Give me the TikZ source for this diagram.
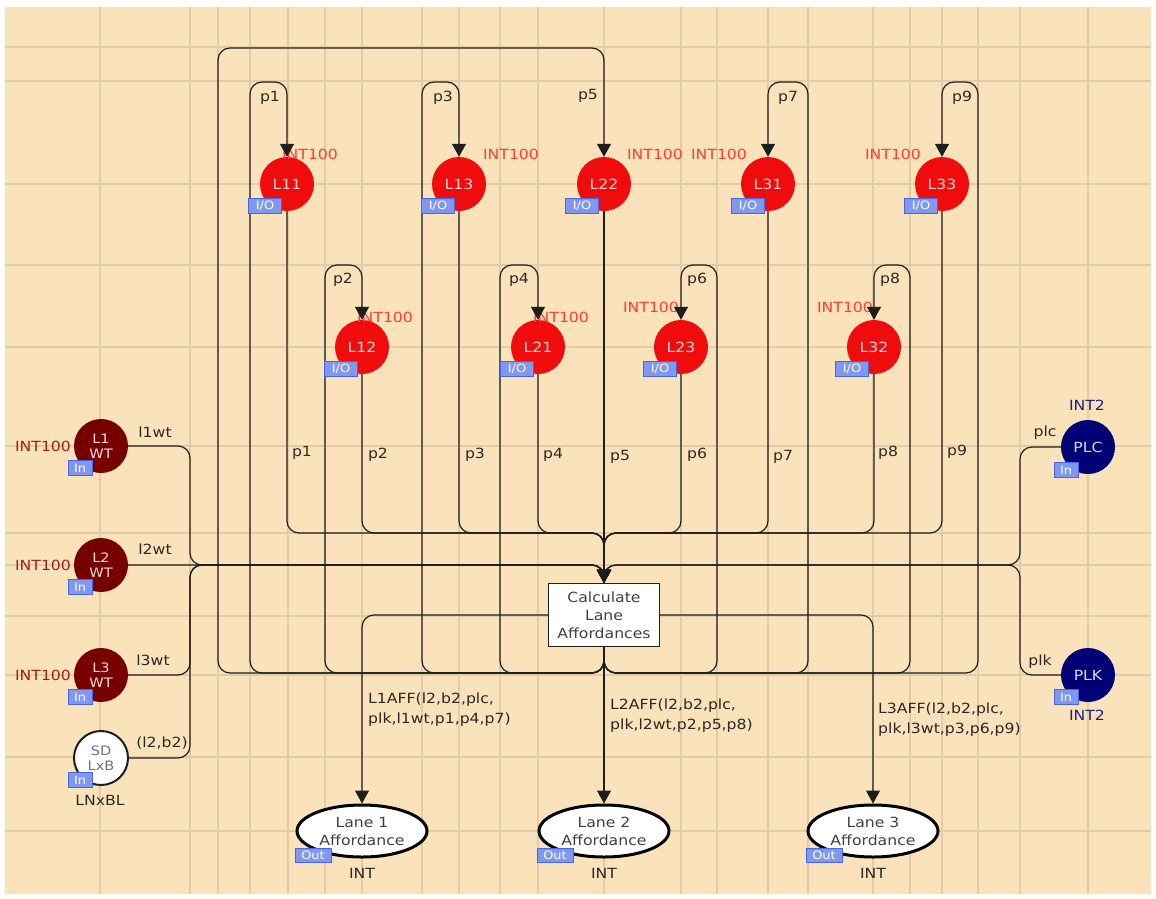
\documentclass[tikz,border=0pt]{standalone}
\usepackage{fontspec}
\setmainfont[FakeStretch=1.12]{DejaVu Sans}
\usetikzlibrary{arrows.meta,shapes.geometric}
\definecolor{bgc}{RGB}{250,226,186}
\definecolor{gridc}{RGB}{224,204,168}
\definecolor{pred}{RGB}{240,12,12}
\definecolor{wtred}{RGB}{118,0,0}
\definecolor{navyp}{RGB}{0,0,118}
\definecolor{tagfill}{RGB}{128,152,240}
\definecolor{tagdraw}{RGB}{72,100,232}
\definecolor{intred}{RGB}{255,60,60}
\definecolor{intdark}{RGB}{165,30,30}
\definecolor{intblue}{RGB}{30,30,140}
\definecolor{inscr}{RGB}{45,40,35}
\definecolor{arcc}{RGB}{30,30,30}
\begin{document}
\begin{tikzpicture}[x=1pt,y=-1pt,
  every node/.style={inner sep=0pt},
  f/.style={font=\fontsize{14}{17}\selectfont},
  place/.style={circle,minimum size=54pt,f,align=center},
  redp/.style={place,fill=pred,text=white!85!red},
  wtp/.style={place,fill=wtred,text=red!15!white,font=\fontsize{13}{15}\selectfont},
  bluep/.style={place,fill=navyp,text=blue!15!white},
  sdp/.style={place,fill=white,draw=arcc,line width=2pt,text=black!55,font=\fontsize{13}{15}\selectfont},
  lane/.style={ellipse,minimum width=130pt,minimum height=52pt,fill=white,draw=black,line width=3pt,align=center,font=\fontsize{14}{18}\selectfont,text=black!75},
  trans/.style={rectangle,minimum width=111pt,minimum height=63pt,fill=white,draw=arcc,line width=1.3pt,align=center,font=\fontsize{14}{18}\selectfont,text=black!75},
  tagbox/.style={rectangle,fill=tagfill,draw=tagdraw,line width=0.8pt,text=white,minimum height=15pt,font=\fontsize{11.5}{11.5}\selectfont},
  iot/.style={tagbox,minimum width=33pt},
  intag/.style={tagbox,minimum width=24pt},
  outt/.style={tagbox,minimum width=36pt,minimum height=14pt},
  lbl/.style={f,text=inscr},
  rhund/.style={f,text=intred},
  dhund/.style={f,text=intdark},
  btwo/.style={f,text=intblue},
  arc/.style={draw=arcc,line width=1.2pt,rounded corners=12pt},
  tip/.style={-{Triangle[length=13pt,width=14pt]}},
  guide/.style={draw=gridc,line width=1.5pt}
]
\useasboundingbox (0,0) rectangle (1156,899);
\fill[white] (0,0) rectangle (1156,899);
\fill[bgc] (5,7) rectangle (1151,894);
\foreach \y in {47,81,184,265,347,446,533,565,616,675,757,831} \draw[guide] (5,\y) -- (1151,\y);
\foreach \x in {100,190,218,250,288,325,362,422,459,500,538,604,681,717,768,808,873,910,942,978,1020,1088} \draw[guide] (\x,7) -- (\x,894);

% places
\node[redp] (L11) at (287,184) {L11};
\node[redp] (L13) at (459,184) {L13};
\node[redp] (L22) at (604,184) {L22};
\node[redp] (L31) at (768,184) {L31};
\node[redp] (L33) at (942,184) {L33};
\node[redp] (L12) at (362,347) {L12};
\node[redp] (L21) at (538,347) {L21};
\node[redp] (L23) at (681,347) {L23};
\node[redp] (L32) at (874,347) {L32};
\node[wtp] (L1WT) at (101,446) {L1\\WT};
\node[wtp] (L2WT) at (101,565) {L2\\WT};
\node[wtp] (L3WT) at (101,675) {L3\\WT};
\node[sdp] (SD) at (101,758) {SD\\LxB};
\node[bluep] (PLC) at (1088,447) {PLC};
\node[bluep] (PLK) at (1088,675) {PLK};
\node[trans] (calc) at (604,615) {Calculate\\Lane\\Affordances};
\node[lane] (Lane1) at (362,831) {Lane 1\\Affordance};
\node[lane] (Lane2) at (604,831) {Lane 2\\Affordance};
\node[lane] (Lane3) at (873,831) {Lane 3\\Affordance};

% colour set labels
\node[rhund] (c11) at (310,154) {INT100};
\node[rhund] (c13) at (511,154) {INT100};
\node[rhund] (c22) at (655,154) {INT100};
\node[rhund] (c31) at (719,154) {INT100};
\node[rhund] (c33) at (893,154) {INT100};
\node[rhund] (c12) at (385,317) {INT100};
\node[rhund] (c21) at (561,317) {INT100};
\node[rhund] (c23) at (651,307) {INT100};
\node[rhund] (c32) at (845,307) {INT100};
\node[dhund] (cw1) at (43,446) {INT100};
\node[dhund] (cw2) at (43,565) {INT100};
\node[dhund] (cw3) at (43,675) {INT100};
\node[btwo] (cplc) at (1087,405) {INT2};
\node[btwo] (cplk) at (1087,715) {INT2};
\node[lbl] (csd) at (100,800) {LNxBL};
\node[lbl] (cl1) at (362,873) {INT};
\node[lbl] (cl2) at (604,873) {INT};
\node[lbl] (cl3) at (873,873) {INT};

% arc inscriptions
\node[lbl] (a1) at (270,98) {p1};
\node[lbl] (a3) at (443,98) {p3};
\node[lbl] (a5) at (588,96) {p5};
\node[lbl] (a7) at (788,98) {p7};
\node[lbl] (a9) at (962,98) {p9};
\node[lbl] (a2) at (343,280) {p2};
\node[lbl] (a4) at (519,280) {p4};
\node[lbl] (a6) at (697,280) {p6};
\node[lbl] (a8) at (890,280) {p8};
\node[lbl] (b1) at (302,453) {p1};
\node[lbl] (b2) at (378,455) {p2};
\node[lbl] (b3) at (475,455) {p3};
\node[lbl] (b4) at (553,455) {p4};
\node[lbl] (b5) at (620,457) {p5};
\node[lbl] (b6) at (697,455) {p6};
\node[lbl] (b7) at (783,457) {p7};
\node[lbl] (b8) at (888,453) {p8};
\node[lbl] (b9) at (957,452) {p9};
\node[lbl] (i1) at (155,432) {l1wt};
\node[lbl] (i2) at (155,549) {l2wt};
\node[lbl] (i3) at (153,660) {l3wt};
\node[lbl] (i4) at (162,743) {(l2,b2)};
\node[lbl] (i5) at (1045,433) {plc};
\node[lbl] (i6) at (1040,662) {plk};
\node[lbl,anchor=west,align=left,font=\fontsize{14}{20}\selectfont] (o1) at (368,710) {L1AFF(l2,b2,plc,\\plk,l1wt,p1,p4,p7)};
\node[lbl,anchor=west,align=left,font=\fontsize{14}{20}\selectfont] (o2) at (610,716) {L2AFF(l2,b2,plc,\\plk,l2wt,p2,p5,p8)};
\node[lbl,anchor=west,align=left,font=\fontsize{14}{20}\selectfont] (o3) at (878,720) {L3AFF(l2,b2,plc,\\plk,l3wt,p3,p6,p9)};

% arcs: places -> transition
\draw[arc,tip] (L11.south) |- (604,533) -- (calc.north);
\draw[arc,tip] (L12.south) |- (604,533) -- (calc.north);
\draw[arc,tip] (L13.south) |- (604,533) -- (calc.north);
\draw[arc,tip] (L21.south) |- (604,533) -- (calc.north);
\draw[arc,tip] (L22.south) -- (calc.north);
\draw[arc,tip] (L23.south) |- (604,533) -- (calc.north);
\draw[arc,tip] (L31.south) |- (604,533) -- (calc.north);
\draw[arc,tip] (L32.south) |- (604,533) -- (calc.north);
\draw[arc,tip] (L33.south) |- (604,533) -- (calc.north);
\draw[arc,tip] (L1WT.east) -- (190,446) -- (190,565) -- (604,565) -- (calc.north);
\draw[arc,tip] (L2WT.east) -- (604,565) -- (calc.north);
\draw[arc,tip] (L3WT.east) -- (190,675) -- (190,565) -- (604,565) -- (calc.north);
\draw[arc,tip] (SD.east) -- (190,758) -- (190,565) -- (604,565) -- (calc.north);
\draw[arc,tip] (PLC.west) -- (1020,447) -- (1020,565) -- (604,565) -- (calc.north);
\draw[arc,tip] (PLK.west) -- (1020,675) -- (1020,565) -- (604,565) -- (calc.north);

% arcs: transition -> places
\draw[arc,tip] (calc.south) -- (604,673) -- (250,673) -- (250,82) -- (287,82) -- (L11.north);
\draw[arc,tip] (calc.south) -- (604,673) -- (325,673) -- (325,265) -- (362,265) -- (L12.north);
\draw[arc,tip] (calc.south) -- (604,673) -- (422,673) -- (422,82) -- (459,82) -- (L13.north);
\draw[arc,tip] (calc.south) -- (604,673) -- (500,673) -- (500,265) -- (538,265) -- (L21.north);
\draw[arc,tip] (calc.south) -- (604,673) -- (218,673) -- (218,48) -- (604,48) -- (L22.north);
\draw[arc,tip] (calc.south) -- (604,673) -- (717,673) -- (717,265) -- (681,265) -- (L23.north);
\draw[arc,tip] (calc.south) -- (604,673) -- (808,673) -- (808,82) -- (768,82) -- (L31.north);
\draw[arc,tip] (calc.south) -- (604,673) -- (910,673) -- (910,265) -- (874,265) -- (L32.north);
\draw[arc,tip] (calc.south) -- (604,673) -- (978,673) -- (978,82) -- (942,82) -- (L33.north);

% arcs: transition -> output places
\draw[arc,tip] (calc.west) -| (Lane1.north);
\draw[arc,tip] (calc.south) -- (Lane2.north);
\draw[arc,tip] (calc.east) -| (Lane3.north);

% port tags
\node[iot] (t11) at (265,206) {I/O};
\node[iot] (t13) at (438,206) {I/O};
\node[iot] (t22) at (582,206) {I/O};
\node[iot] (t31) at (748,206) {I/O};
\node[iot] (t33) at (921,206) {I/O};
\node[iot] (t12) at (341,369) {I/O};
\node[iot] (t21) at (517,369) {I/O};
\node[iot] (t23) at (660,369) {I/O};
\node[iot] (t32) at (852,369) {I/O};
\node[intag] (tw1) at (80,468) {In};
\node[intag] (tw2) at (80,587) {In};
\node[intag] (tw3) at (80,697) {In};
\node[intag] (tsd) at (80,780) {In};
\node[intag] (tplc) at (1066,470) {In};
\node[intag] (tplk) at (1066,697) {In};
\node[outt] (tl1) at (313,855) {Out};
\node[outt] (tl2) at (555,855) {Out};
\node[outt] (tl3) at (824,855) {Out};
\end{tikzpicture}
\end{document}
